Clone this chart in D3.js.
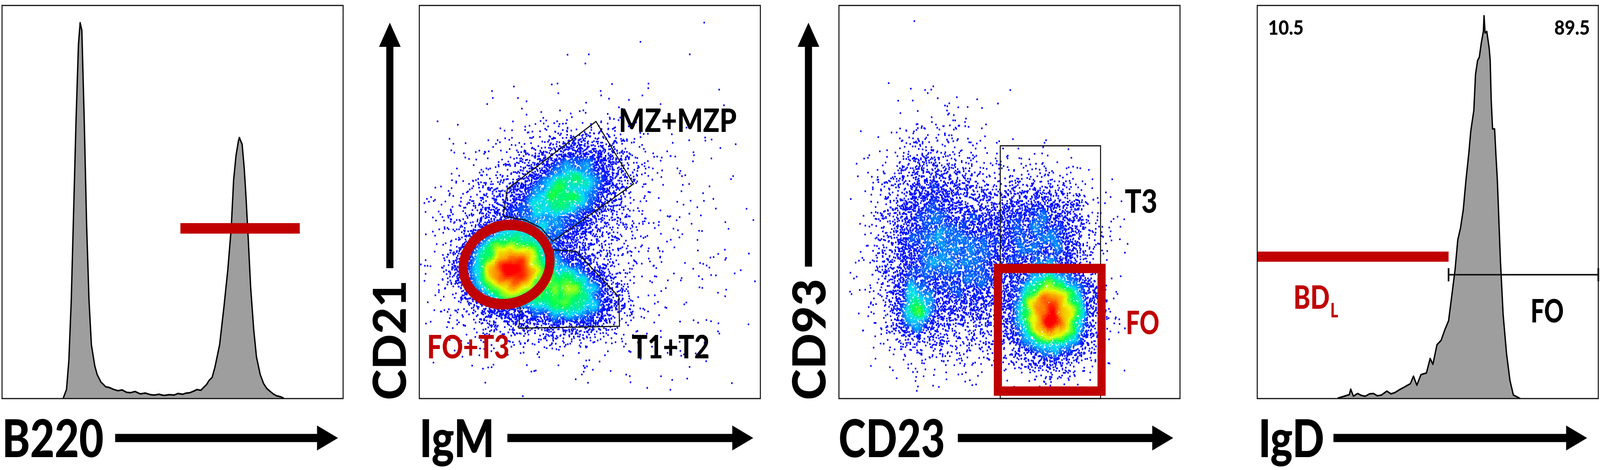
<!DOCTYPE html>
<html>
<head>
<meta charset="utf-8">
<script src="https://cdn.jsdelivr.net/npm/d3@7"></script>
<style>
  html, body { margin: 0; padding: 0; width: 100%; height: 100%; overflow: hidden; background: #fff; }
  svg { display: block; }
  text { font-family: Lato, "Open Sans", sans-serif; font-weight: 900; }
</style>
</head>
<body>
<script>
// ---- histogram B220 (x: channel 0-100, y: % of max)
const b220X = [17.9,18.9,19.6,20.3,21.0,21.7,22.4,22.9,23.4,24.1,24.8,25.5,26.2,27.2,27.9,29.0,30.4,31.5,32.8,34.0,35.2,36.5,37.7,39.0,40.5,42.0,43.5,44.7,46.0,47.5,49.0,50.5,51.6,53.0,54.0,55.1,56.2,57.2,58.3,59.3,60.0,60.7,61.6,62.4,63.8,65.1,66.2,67.2,67.9,68.6,69.3,69.6,69.9,70.4,71.0,71.5,72.2,72.9,73.8,74.6,75.7,76.7,77.6,78.5,79.5,80.5,81.5,82.6];
const b220Y = [0,2.3,9.8,25.1,48.0,70.9,90.0,95.6,93.7,70.9,44.2,25.1,13.7,8.3,6.1,4.2,3.0,2.8,2.3,2.0,2.2,1.6,1.5,1.8,1.2,1.4,1.0,0.9,1.1,0.8,1.0,0.9,1.3,1.1,1.4,1.5,1.9,2.3,2.1,3.0,3.6,4.6,5.4,7.9,13.7,23.6,32.8,43.4,55.6,61.8,65.5,66.4,65.7,64.7,58.7,51.8,40.4,28.2,17.5,10.6,6.1,3.8,2.6,1.9,1.2,0.7,0.5,0.1];
const b220Gate = [52.3, 87.3, 43.3];   // from, to, level

// ---- histogram IgD
const igdX = [23.6,25.5,27.0,27.4,28.2,29.4,30.5,31.7,32.9,34.1,35.2,36.4,38.0,39.2,40.3,41.8,43.3,44.9,45.8,46.8,48.0,49.6,50.7,51.5,52.7,53.9,55.0,56.1,57.0,58.0,58.8,59.6,60.4,61.2,62.1,62.6,63.5,64.0,64.6,65.1,65.7,66.3,66.5,66.8,67.3,68.0,68.3,68.6,69.0,69.6,70.0,70.4,71.3,72.1,73.1,74.1,75.1,77.1];
const igdY = [0.1,0.6,1.0,2.4,0.6,1.3,0.8,0.6,1.2,1.3,0.7,0.9,1.9,1.2,1.5,2.3,3.0,3.8,5.7,3.4,6.1,6.5,10.2,8.7,13.7,14.8,17.5,19.8,25.9,32.8,40.4,43.4,48.0,55.6,63.0,68.0,73.3,82.5,86.0,86.8,90.5,93.4,97.4,93.0,93.4,89.2,86.0,75.9,68.6,68.6,61.7,55.6,35.1,21.3,11.4,4.6,0.9,0];
const igdBdlGate = [0, 56.1, 36.1];
const igdFoGate = [56.1, 100, 31.5];
const igdPercents = ["10.5", "89.5"];

// ---- IgM / CD21 dot plot: populations (centre, spread, tilt, events)
const igmPops = ["FO+T3", "MZ+MZP", "T1+T2", "halo", "sparse"];
const igmCu = [26.5, 42.5, 43.3, 34, 58];
const igmCv = [32.8, 52.5, 26.6, 40, 38];
const igmSu = [6.5, 9.0, 7.0, 13, 20];
const igmSv = [5.5, 5.5, 4.5, 12, 20];
const igmTilt = [0, 32, -8, 20, 0];
const igmN = [8000, 4800, 4000, 3000, 550];
const mzGateU = [25.8, 51.8, 62.8, 39.1, 35.7, 31.1, 24.6];
const mzGateV = [53.3, 70.5, 54.6, 40.0, 43.4, 45.4, 46.4];
const t12GateU = [39.5, 45.9, 58.5, 58.7, 29.2, 29.6, 33.0, 36.4, 38.4, 38.9];
const t12GateV = [37.8, 37.5, 25.9, 18.4, 17.9, 23.6, 25.4, 28.2, 31.9, 35.8];
const foT3Oval = { cu: 25.6, cv: 34.1, ru: 12.8, rv: 10.0, tilt: 10 };

// ---- CD23 / CD93 dot plot
const cd23Pops = ["FO", "T3", "CD23lo", "CD23lo spot", "bridge", "sparse"];
const cd23Cu = [62.0, 58.0, 27.0, 22.6, 41, 45];
const cd23Cv = [21.5, 42.0, 39.0, 22.8, 33, 34];
const cd23Su = [6.0, 8.0, 7.5, 3.0, 6, 16];
const cd23Sv = [6.0, 7.0, 12.5, 4.0, 10, 16];
const cd23Tilt = [0, 0, 0, 0, 0, 0];
const cd23N = [7000, 2600, 4400, 900, 1900, 280];
const t3Gate = [47.3, 76.7, 0, 64.3];    // u0, u1, v0, v1
const foGate = [46.6, 77.0, 1.9, 33.1];

// ---- layout
const W = 4724, H = 1204;
const boxLeft = [6, 1238, 2477, 3712], boxTop = 14, boxSize = 1007;
const red = "#c00000", gray = "#9e9e9e";

const svg = d3.select("body").append("svg")
  .attr("viewBox", `0 0 ${W} ${H}`)
  .attr("preserveAspectRatio", "none")
  .style("width", "100vw").style("height", "100vh");
svg.append("rect").attr("width", W).attr("height", H).attr("fill", "#fff");

function panelScales(i) {
  return {
    x: d3.scaleLinear().domain([0, 100]).range([boxLeft[i], boxLeft[i] + boxSize]),
    y: d3.scaleLinear().domain([0, 100]).range([boxTop + boxSize, boxTop])
  };
}

function drawBox(i) {
  svg.append("rect")
    .attr("x", boxLeft[i]).attr("y", boxTop)
    .attr("width", boxSize).attr("height", boxSize)
    .attr("fill", "none").attr("stroke", "#111").attr("stroke-width", 3);
}

function label(x, y, str, size, len, color) {
  return svg.append("text")
    .attr("x", x).attr("y", y)
    .attr("font-size", size)
    .attr("textLength", len).attr("lengthAdjust", "spacingAndGlyphs")
    .attr("fill", color || "#000")
    .text(str);
}

function hArrow(x0, x1, y) {
  const head = 62;
  svg.append("path")
    .attr("d", `M${x0},${y - 10.5}H${x1 - head}V${y - 32}L${x1},${y}L${x1 - head},${y + 32}V${y + 10.5}H${x0}Z`)
    .attr("fill", "#000");
}
function vArrow(x, y0, y1) {   // y0 bottom, y1 tip
  const head = 62;
  svg.append("path")
    .attr("d", `M${x - 10.5},${y0}V${y1 + head}H${x - 32}L${x},${y1}L${x + 32},${y1 + head}H${x + 10.5}V${y0}Z`)
    .attr("fill", "#000");
}

function drawHist(i, xs, ys) {
  const s = panelScales(i);
  const data = xs.map((d, k) => ({ u: d, v: ys[k] }));
  const area = d3.area().x(d => s.x(d.u)).y0(s.y(0)).y1(d => s.y(d.v));
  svg.append("path").datum(data).attr("d", area)
    .attr("fill", gray).attr("stroke", "none");
  const line = d3.line().x(d => s.x(d.u)).y(d => s.y(d.v));
  svg.append("path").datum(data).attr("d", line)
    .attr("fill", "none").attr("stroke", "#000").attr("stroke-width", 4)
    .attr("stroke-linejoin", "round");
}

// jet-like pseudocolour used by the cytometry software
const jet = d3.scaleLinear()
  .domain([0, 0.2, 0.36, 0.5, 0.66, 0.82, 1])
  .range(["#0000ff", "#0010ff", "#00d8ff", "#00ff50", "#e8ff00", "#ff9000", "#ff0000"])
  .clamp(true);

const G = 200;   // density grid, 0.5 unit cells
function boxBlur(a, r) {
  const out = new Float32Array(G * G);
  for (let y = 0; y < G; y++) for (let x = 0; x < G; x++) {
    let s = 0;
    for (let k = -r; k <= r; k++) { const xx = x + k; if (xx >= 0 && xx < G) s += a[y * G + xx]; }
    out[y * G + x] = s;
  }
  const out2 = new Float32Array(G * G);
  for (let y = 0; y < G; y++) for (let x = 0; x < G; x++) {
    let s = 0;
    for (let k = -r; k <= r; k++) { const yy = y + k; if (yy >= 0 && yy < G) s += out[yy * G + x]; }
    out2[y * G + x] = s;
  }
  return out2;
}

function drawDots(i, cu, cv, su, sv, tilt, n, seed) {
  const s = panelScales(i);
  const rnd = d3.randomNormal.source(d3.randomLcg(seed))(0, 1);
  const pts = [];
  cu.forEach((c, k) => {
    const a = tilt[k] * Math.PI / 180;
    for (let j = 0; j < n[k]; j++) {
      const du = rnd() * su[k], dv = rnd() * sv[k];
      const u = c + du * Math.cos(a) - dv * Math.sin(a);
      const v = cv[k] + du * Math.sin(a) + dv * Math.cos(a);
      if (u > 0.3 && u < 99.7 && v > 0.3 && v < 99.7) pts.push({ u, v });
    }
  });
  let grid = new Float32Array(G * G);
  const cell = p => Math.floor(p.v * 2) * G + Math.floor(p.u * 2);
  pts.forEach(p => { grid[cell(p)]++; });
  grid = boxBlur(boxBlur(grid, 2), 1);
  pts.forEach(p => { p.d = grid[cell(p)]; });
  const maxD = d3.quantile(pts.map(p => p.d).sort(d3.ascending), 0.99);
  pts.sort((a, b) => a.d - b.d);
  svg.append("g").selectAll("rect").data(pts).enter().append("rect")
    .attr("x", p => s.x(p.u) - 2.2).attr("y", p => s.y(p.v) - 2.2)
    .attr("width", 4.4).attr("height", 4.4)
    .attr("fill", p => jet(Math.pow(p.d / maxD, 0.9)));
}

// ---------- panel 1: B220
(function () {
  const s = panelScales(0);
  drawHist(0, b220X, b220Y);
  svg.append("line")
    .attr("x1", s.x(b220Gate[0])).attr("x2", s.x(b220Gate[1]))
    .attr("y1", s.y(b220Gate[2])).attr("y2", s.y(b220Gate[2]))
    .attr("stroke", red).attr("stroke-width", 27);
  drawBox(0);
  label(6, 1171, "B220", 134, 300);
  hArrow(340, 998, 1122);
})();

// ---------- panel 2: IgM vs CD21
(function () {
  const s = panelScales(1);
  drawDots(1, igmCu, igmCv, igmSu, igmSv, igmTilt, igmN, 0.37);
  const poly = (us, vs) => us.map((u, k) => [s.x(u), s.y(vs[k])]);
  svg.append("path").attr("d", d3.line()(poly(mzGateU, mzGateV)) + "Z")
    .attr("fill", "none").attr("stroke", "#111").attr("stroke-width", 3);
  svg.append("path").attr("d", d3.line()(poly(t12GateU, t12GateV)) + "Z")
    .attr("fill", "none").attr("stroke", "#111").attr("stroke-width", 3);
  const o = foT3Oval;
  svg.append("ellipse")
    .attr("cx", s.x(o.cu)).attr("cy", s.y(o.cv))
    .attr("rx", s.x(o.ru) - s.x(0)).attr("ry", s.y(0) - s.y(o.rv))
    .attr("transform", `rotate(${-o.tilt},${s.x(o.cu)},${s.y(o.cv)})`)
    .attr("fill", "none").attr("stroke", red).attr("stroke-width", 27);
  drawBox(1);
  label(1827, 338, "MZ+MZP", 81, 348);
  label(1865, 918, "T1+T2", 81, 230);
  label(1261, 918, "FO+T3", 81, 243, red);
  label(1238, 1171, "IgM", 134, 222);
  hArrow(1498, 2224, 1122);
  vArrow(1151, 687, 58);
  label(0, 0, "CD21", 134, 307).attr("transform", "translate(1198,1025) rotate(-90)");
})();

// ---------- panel 3: CD23 vs CD93
(function () {
  const s = panelScales(2);
  drawDots(2, cd23Cu, cd23Cv, cd23Su, cd23Sv, cd23Tilt, cd23N, 0.71);
  svg.append("rect")
    .attr("x", s.x(t3Gate[0])).attr("y", s.y(t3Gate[3]))
    .attr("width", s.x(t3Gate[1]) - s.x(t3Gate[0]))
    .attr("height", s.y(t3Gate[2]) - s.y(t3Gate[3]))
    .attr("fill", "none").attr("stroke", "#111").attr("stroke-width", 3);
  svg.append("rect")
    .attr("x", s.x(foGate[0])).attr("y", s.y(foGate[3]))
    .attr("width", s.x(foGate[1]) - s.x(foGate[0]))
    .attr("height", s.y(foGate[2]) - s.y(foGate[3]))
    .attr("fill", "none").attr("stroke", red).attr("stroke-width", 24);
  drawBox(2);
  label(3321, 545, "T3", 81, 96);
  label(3324, 856, "FO", 81, 99, red);
  label(2476, 1171, "CD23", 134, 314);
  hArrow(2828, 3464, 1122);
  vArrow(2387, 683, 58);
  label(0, 0, "CD93", 134, 311).attr("transform", "translate(2437,1025) rotate(-90)");
})();

// ---------- panel 4: IgD
(function () {
  const s = panelScales(3);
  drawHist(3, igdX, igdY);
  svg.append("line")
    .attr("x1", s.x(igdBdlGate[0])).attr("x2", s.x(igdBdlGate[1]))
    .attr("y1", s.y(igdBdlGate[2])).attr("y2", s.y(igdBdlGate[2]))
    .attr("stroke", red).attr("stroke-width", 26);
  const gy = s.y(igdFoGate[2]);
  svg.append("line")
    .attr("x1", s.x(igdFoGate[0])).attr("x2", s.x(igdFoGate[1]))
    .attr("y1", gy).attr("y2", gy)
    .attr("stroke", "#111").attr("stroke-width", 4);
  [igdFoGate[0], igdFoGate[1]].forEach(u => {
    svg.append("line")
      .attr("x1", s.x(u)).attr("x2", s.x(u))
      .attr("y1", gy - 17).attr("y2", gy + 17)
      .attr("stroke", "#111").attr("stroke-width", 5);
  });
  drawBox(3);
  label(3744, 89, igdPercents[0], 52, 105);
  label(4589, 89, igdPercents[1], 52, 105);
  label(3819, 791, "BD", 81, 107, red);
  label(3928, 813, "L", 52, 23, red);
  label(4519, 826, "FO", 81, 98);
  label(3715, 1171, "IgD", 134, 195);
  hArrow(3937, 4686, 1122);
})();
</script>
</body>
</html>
